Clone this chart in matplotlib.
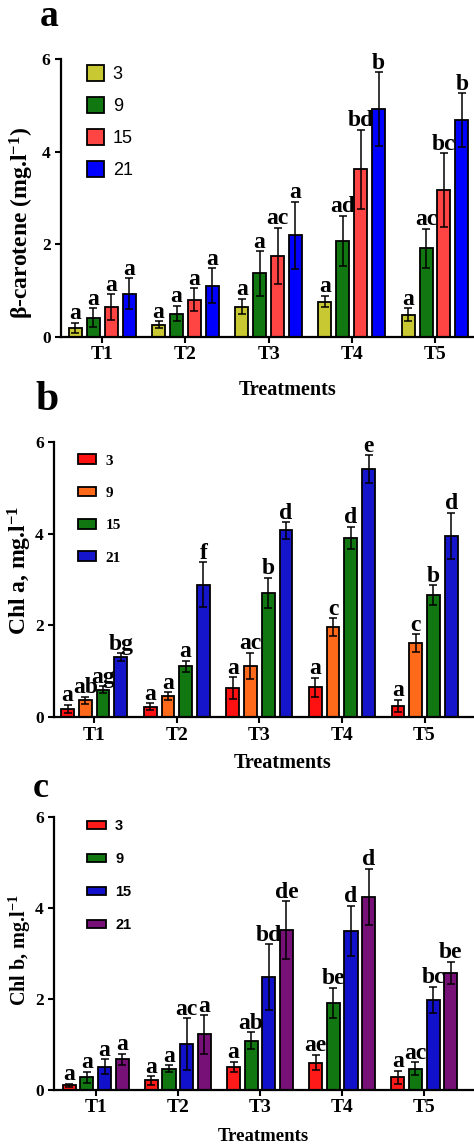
import matplotlib
matplotlib.use("Agg")
import matplotlib.pyplot as plt
import numpy as np

plt.rcParams['font.family'] = 'serif'
plt.rcParams['font.serif'] = ['Liberation Serif', 'DejaVu Serif']
plt.rcParams['font.weight'] = 'bold'
plt.rcParams['mathtext.fontset'] = 'custom'
plt.rcParams['mathtext.rm'] = 'Liberation Serif:bold'
plt.rcParams['mathtext.bf'] = 'Liberation Serif:bold'
plt.rcParams['mathtext.it'] = 'Liberation Serif:bold'

treatments = ['T1', 'T2', 'T3', 'T4', 'T5']
days = ['3', '9', '15', '21']

# a: beta-carotene
bc_mean = [[0.19, 0.26, 0.65, 0.76, 0.47],
           [0.41, 0.50, 1.37, 2.07, 1.91],
           [0.64, 0.80, 1.74, 3.62, 3.17],
           [0.93, 1.10, 2.19, 4.92, 4.68]]
bc_sd = [[0.11, 0.07, 0.17, 0.12, 0.14],
         [0.21, 0.17, 0.48, 0.54, 0.42],
         [0.28, 0.25, 0.61, 0.85, 0.79],
         [0.33, 0.38, 0.73, 0.79, 0.58]]
bc_letters = [['a', 'a', 'a', 'a', 'a'],
              ['a', 'a', 'a', 'ad', 'ac'],
              ['a', 'a', 'ac', 'bd', 'bc'],
              ['a', 'a', 'a', 'b', 'b']]

# b: chlorophyll a
cha_mean = [[0.18, 0.23, 0.63, 0.65, 0.25],
            [0.37, 0.46, 1.12, 1.96, 1.62],
            [0.60, 1.11, 2.71, 3.91, 2.66],
            [1.31, 2.89, 4.07, 5.40, 3.95]]
cha_sd = [[0.09, 0.08, 0.24, 0.21, 0.13],
          [0.08, 0.08, 0.29, 0.20, 0.19],
          [0.08, 0.12, 0.33, 0.24, 0.22],
          [0.08, 0.49, 0.18, 0.31, 0.50]]
cha_letters = [['a', 'a', 'a', 'a', 'a'],
               ['ab', 'a', 'ac', 'c', 'c'],
               ['ag', 'a', 'b', 'd', 'b'],
               ['bg', 'f', 'd', 'e', 'd']]

# c: chlorophyll b
chb_mean = [[0.09, 0.20, 0.50, 0.59, 0.27],
            [0.27, 0.46, 1.07, 1.91, 0.46],
            [0.50, 1.00, 2.47, 3.49, 1.97],
            [0.66, 1.21, 3.51, 4.24, 2.56]]
chb_sd = [[0.04, 0.09, 0.11, 0.17, 0.14],
          [0.12, 0.07, 0.19, 0.33, 0.14],
          [0.16, 0.57, 0.72, 0.55, 0.29],
          [0.13, 0.42, 0.63, 0.62, 0.25]]
chb_letters = [['a', 'a', 'a', 'ae', 'a'],
               ['a', 'a', 'ab', 'be', 'ac'],
               ['a', 'ac', 'bd', 'd', 'bc'],
               ['a', 'a', 'de', 'd', 'be']]

colors_a = ['#c8c832', '#117711', '#ff4444', '#0000ff']
colors_b = ['#ff1111', '#ff6a1a', '#117711', '#1515cc']
colors_c = ['#ff1a1a', '#117711', '#1111cc', '#771177']


def bar_panel(ax, means, sds, letters, colors, xlim, width):
    x = np.arange(1, len(treatments) + 1)
    pitch = 0.215
    bars = []
    for i in range(len(days)):
        pos = x + (i - 1.5) * pitch
        b = ax.bar(pos, means[i], width, color=colors[i], edgecolor='black',
                   linewidth=1.3, label=days[i], zorder=2)
        ax.errorbar(pos, means[i], yerr=sds[i], fmt='none', ecolor='black',
                    elinewidth=1.1, capsize=3, capthick=1.1, zorder=3)
        for j in range(len(pos)):
            ax.annotate(letters[i][j], (pos[j], means[i][j] + sds[i][j]),
                        xytext=(0, 2.5), textcoords='offset points',
                        ha='center', va='baseline', fontsize=17,
                        fontweight='bold', annotation_clip=False)
        bars.append(b)
    ax.set_xlim(*xlim)
    ax.set_ylim(0, 6)
    ax.set_yticks([0, 2, 4, 6])
    ax.set_xticks(x)
    ax.set_xticklabels(treatments, fontsize=14, fontweight='bold')
    ax.tick_params(axis='y', labelsize=12.5, direction='out', length=4, width=1.5)
    ax.tick_params(axis='x', direction='out', length=4, width=1.5, pad=3)
    for s in ['top', 'right']:
        ax.spines[s].set_visible(False)
    for s in ['left', 'bottom']:
        ax.spines[s].set_linewidth(1.6)
    return bars


def set_labels(ax, ylabel, ysize, ycoords, xsize, xcoords):
    ax.set_ylabel(ylabel, fontsize=ysize, fontweight='bold')
    ax.yaxis.set_label_coords(*ycoords)
    ax.yaxis.label.set_va('center')
    ax.set_xlabel('Treatments', fontsize=xsize, fontweight='bold')
    ax.xaxis.set_label_coords(*xcoords)
    ax.xaxis.label.set_va('center')


fig = plt.figure(figsize=(4.74, 11.46), dpi=100)

ax1 = fig.add_axes([0.1287, 0.7062, 0.8692, 0.2423])
bars = bar_panel(ax1, bc_mean, bc_sd, bc_letters, colors_a, (0.504, 5.457), 0.156)
set_labels(ax1, r'β-carotene (mg.l$^{-1}$)', 17, (-0.095, 0.41), 14.5, (0.549, -0.192))
ax1.legend(bars, days, loc='upper left', bbox_to_anchor=(0.062, 0.978),
           frameon=False, borderpad=0, borderaxespad=0, handlelength=0.95,
           handleheight=0.95, labelspacing=0.78, handletextpad=0.5,
           prop={'family': 'Liberation Sans', 'weight': 'normal', 'size': 13})

ax2 = fig.add_axes([0.1146, 0.3741, 0.8833, 0.2405])
bars = bar_panel(ax2, cha_mean, cha_sd, cha_letters, colors_b, (0.517, 5.587), 0.154)
set_labels(ax2, r'Chl a, mg.l$^{-1}$', 17, (-0.082, 0.534), 14.5, (0.546, -0.167))
ax2.legend(bars, days, loc='upper left', bbox_to_anchor=(0.057, 0.954),
           frameon=False, borderpad=0, borderaxespad=0, handlelength=1.18,
           handleheight=0.6, labelspacing=1.25, handletextpad=0.6,
           prop={'family': 'Liberation Serif', 'weight': 'bold', 'size': 11})

ax3 = fig.add_axes([0.1146, 0.0493, 0.8833, 0.2380])
bars = bar_panel(ax3, chb_mean, chb_sd, chb_letters, colors_c, (0.496, 5.593), 0.16)
set_labels(ax3, r'Chl b, mg.l$^{-1}$', 14.5, (-0.082, 0.511), 13.5, (0.499, -0.173))
ax3.legend(bars, days, loc='upper left', bbox_to_anchor=(0.079, 0.99),
           frameon=False, borderpad=0, borderaxespad=0, handlelength=1.3,
           handleheight=0.5, labelspacing=1.3, handletextpad=0.6,
           prop={'family': 'Liberation Sans', 'weight': 'bold', 'size': 10.5})

fig.text(40 / 474, 1 - 26 / 1146, 'a', fontsize=27, fontweight='bold', va='baseline')
fig.text(35 / 474, 1 - 410 / 1146, 'b', fontsize=30, fontweight='bold', va='baseline')
fig.text(33 / 474, 1 - 797 / 1146, 'c', fontsize=26, fontweight='bold', va='baseline')

fig.savefig('out.png', dpi=100)
